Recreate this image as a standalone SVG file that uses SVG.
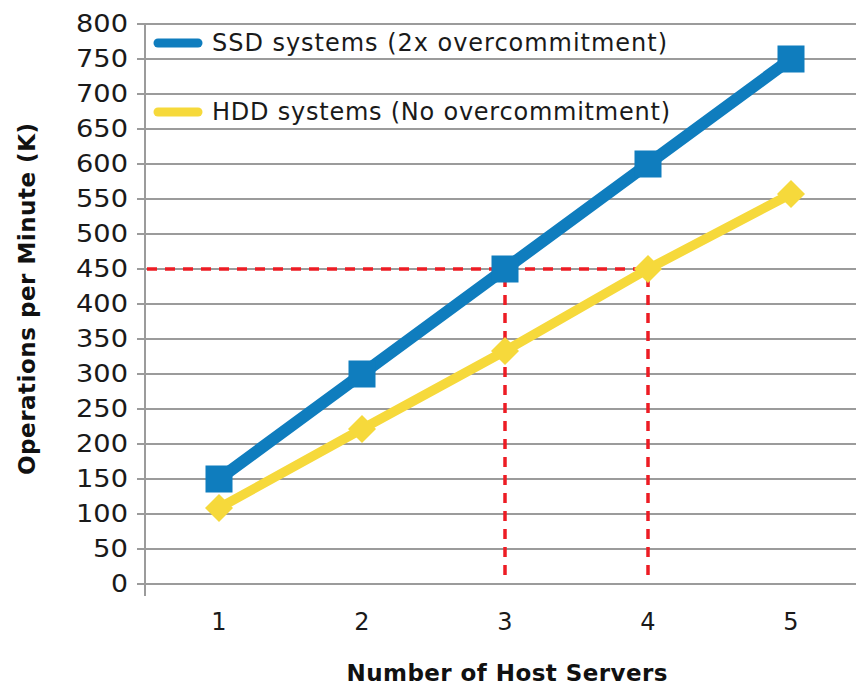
<svg xmlns="http://www.w3.org/2000/svg" width="856" height="687" viewBox="0 0 856 687">
<style>
.grid{stroke:#9b9b9b;stroke-width:2;fill:none}
.lbl{font-family:"DejaVu Sans","Liberation Sans",sans-serif;font-size:24px;fill:#1a1a1a}
.ylbl{text-anchor:end}
.xlbl{text-anchor:middle}
.title{font-family:"DejaVu Sans","Liberation Sans",sans-serif;font-size:23px;font-weight:bold;fill:#111;text-anchor:middle}
.red{stroke:#ED1C24;stroke-width:3.5;stroke-dasharray:10 8;fill:none}
.ssd{stroke:#0F7DBE;stroke-width:12;fill:none;stroke-linejoin:round}
.hdd{stroke:#F6D93B;stroke-width:9.5;fill:none;stroke-linejoin:round}
</style>
<rect width="856" height="687" fill="#ffffff"/>
<g id="grid">
<path class="grid" d="M137 24H856M137 59H856M137 94H856M137 129H856M137 164H856M137 199H856M137 234H856M137 269H856M137 304H856M137 339H856M137 374H856M137 409H856M137 444H856M137 479H856M137 514H856M137 549H856M137 584H856"/>
<path class="grid" d="M145 24V596"/>
</g>
<g id="y-labels" class="lbl ylbl">
<text x="128" y="32" textLength="52" lengthAdjust="spacingAndGlyphs">800</text>
<text x="128" y="67" textLength="52" lengthAdjust="spacingAndGlyphs">750</text>
<text x="128" y="102" textLength="52" lengthAdjust="spacingAndGlyphs">700</text>
<text x="128" y="137" textLength="52" lengthAdjust="spacingAndGlyphs">650</text>
<text x="128" y="172" textLength="52" lengthAdjust="spacingAndGlyphs">600</text>
<text x="128" y="207" textLength="52" lengthAdjust="spacingAndGlyphs">550</text>
<text x="128" y="242" textLength="52" lengthAdjust="spacingAndGlyphs">500</text>
<text x="128" y="277" textLength="52" lengthAdjust="spacingAndGlyphs">450</text>
<text x="128" y="312" textLength="52" lengthAdjust="spacingAndGlyphs">400</text>
<text x="128" y="347" textLength="52" lengthAdjust="spacingAndGlyphs">350</text>
<text x="128" y="382" textLength="52" lengthAdjust="spacingAndGlyphs">300</text>
<text x="128" y="417" textLength="52" lengthAdjust="spacingAndGlyphs">250</text>
<text x="128" y="452" textLength="52" lengthAdjust="spacingAndGlyphs">200</text>
<text x="128" y="487" textLength="52" lengthAdjust="spacingAndGlyphs">150</text>
<text x="128" y="522" textLength="52" lengthAdjust="spacingAndGlyphs">100</text>
<text x="128" y="557" textLength="35" lengthAdjust="spacingAndGlyphs">50</text>
<text x="128" y="592" textLength="17" lengthAdjust="spacingAndGlyphs">0</text>
</g>
<g id="x-labels" class="lbl xlbl">
<text x="219" y="630">1</text>
<text x="362" y="630">2</text>
<text x="505" y="630">3</text>
<text x="648" y="630">4</text>
<text x="791" y="630">5</text>
</g>
<g id="axis-titles">
<text class="title" x="507" y="681" textLength="321">Number of Host Servers</text>
<text class="title" transform="translate(35,299) rotate(-90)" x="0" y="0" textLength="352">Operations per Minute (K)</text>
</g>
<g id="connectors">
<path class="red" d="M147 269H648"/>
<path class="red" d="M505 575V269"/>
<path class="red" d="M648 575V269"/>
</g>
<g id="series-hdd">
<polyline class="hdd" points="219,508 362,429 505,351 648,269 791,194"/>
<g fill="#F6D93B">
<polygon points="219,494 233,508 219,522 205,508"/>
<polygon points="362,415 376,429 362,443 348,429"/>
<polygon points="505,337 519,351 505,365 491,351"/>
<polygon points="648,255 662,269 648,283 634,269"/>
<polygon points="791,180 805,194 791,208 777,194"/>
</g>
</g>
<g id="series-ssd">
<polyline class="ssd" points="219,479 362,374 505,269 648,164 791,59"/>
<g fill="#0F7DBE">
<rect x="205.5" y="465.5" width="27" height="27"/>
<rect x="348.5" y="360.5" width="27" height="27"/>
<rect x="491.5" y="255.5" width="27" height="27"/>
<rect x="634.5" y="150.5" width="27" height="27"/>
<rect x="777.5" y="45.5" width="27" height="27"/>
</g>
</g>
<g id="legend">
<line x1="158" y1="43" x2="198" y2="43" stroke="#0F7DBE" stroke-width="9" stroke-linecap="round"/>
<text class="lbl" x="212" y="51" textLength="455">SSD systems (2x overcommitment)</text>
<line x1="158" y1="112" x2="198" y2="112" stroke="#F6D93B" stroke-width="9" stroke-linecap="round"/>
<text class="lbl" x="212" y="120" textLength="458">HDD systems (No overcommitment)</text>
</g>
</svg>
